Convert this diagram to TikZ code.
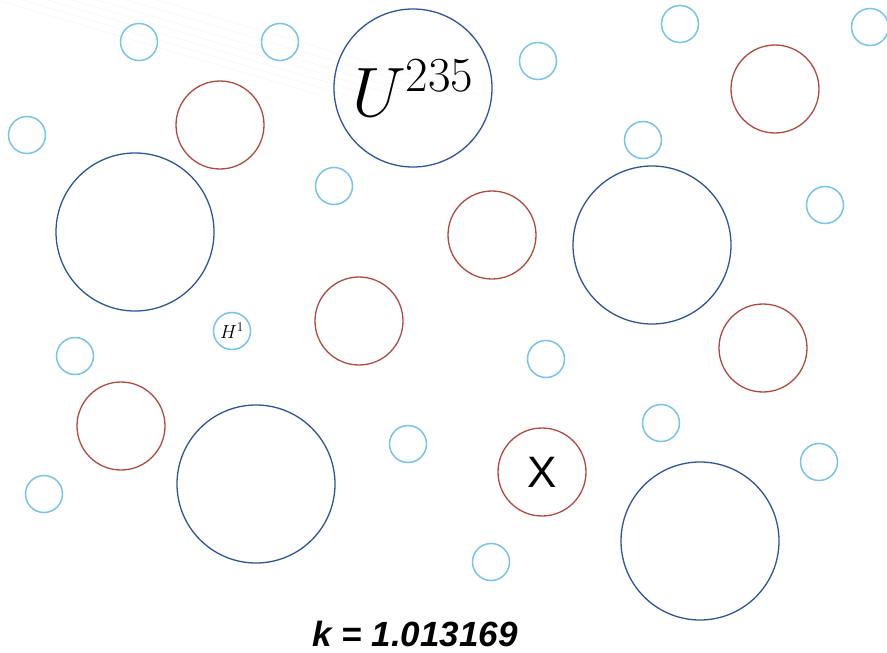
\RequirePackage{fix-cm}
\documentclass[tikz,border=0pt]{standalone}
\usepackage{fontspec}
\newfontfamily\arialf{Liberation Sans}
\definecolor{bigblue}{HTML}{2E5597}
\definecolor{redc}{HTML}{B0483D}
\definecolor{lightb}{HTML}{78C3EA}
\tikzset{
  bigc/.style={circle,draw=bigblue,line width=1.3pt,minimum size=158pt,inner sep=0pt},
  redcirc/.style={circle,draw=redc,line width=1.3pt,minimum size=88pt,inner sep=0pt},
  smallc/.style={circle,draw=lightb,line width=1.5pt,minimum size=37pt,inner sep=0pt},
  trail/.style={draw=black!3,line width=0.7pt}
}
\begin{document}
\begin{tikzpicture}[x=1pt,y=-1pt]
\useasboundingbox (0,0) rectangle (887,653);
% faint trails
\foreach \s in {-20,5,30,55,80,110,140}{
  \draw[trail] (\s,-5) -- ++(340,100);
}
% big blue
\node[bigc] (u235) at (413,88) {\fontsize{70}{72}\selectfont$U^{235}$};
\node[bigc] (b1) at (135,232) {};
\node[bigc] (b2) at (652,245) {};
\node[bigc] (b3) at (256,484) {};
\node[bigc] (b4) at (700,541) {};
% red
\node[redcirc] (r1) at (220,125) {};
\node[redcirc] (r2) at (775,89) {};
\node[redcirc] (r3) at (492,235) {};
\node[redcirc] (r4) at (359,321) {};
\node[redcirc] (r5) at (763,348) {};
\node[redcirc] (r6) at (121,426) {};
\node[redcirc] (x) at (542,472) {\fontsize{44}{46}\selectfont\arialf X};
% small light blue
\node[smallc] (s1) at (139,42) {};
\node[smallc] (s2) at (280,42) {};
\node[smallc] (s3) at (27,135) {};
\node[smallc] (s4) at (334,186) {};
\node[smallc] (s5) at (538,61) {};
\node[smallc] (s6) at (680,24) {};
\node[smallc] (s7) at (870,27) {};
\node[smallc] (s8) at (643,140) {};
\node[smallc] (s9) at (825,205) {};
\node[smallc] (h1) at (232,331) {\fontsize{19}{21}\selectfont$H^1$};
\node[smallc] (s11) at (75,356) {};
\node[smallc] (s12) at (546,359) {};
\node[smallc] (s13) at (661,423) {};
\node[smallc] (s14) at (408,444) {};
\node[smallc] (s15) at (819,462) {};
\node[smallc] (s16) at (44,494) {};
\node[smallc] (s17) at (491,562) {};
% k value
\node[inner sep=0pt,anchor=base] (k) at (415,646) {\fontsize{35}{38}\selectfont\arialf\bfseries\itshape k = 1.013169};
\end{tikzpicture}
\end{document}
